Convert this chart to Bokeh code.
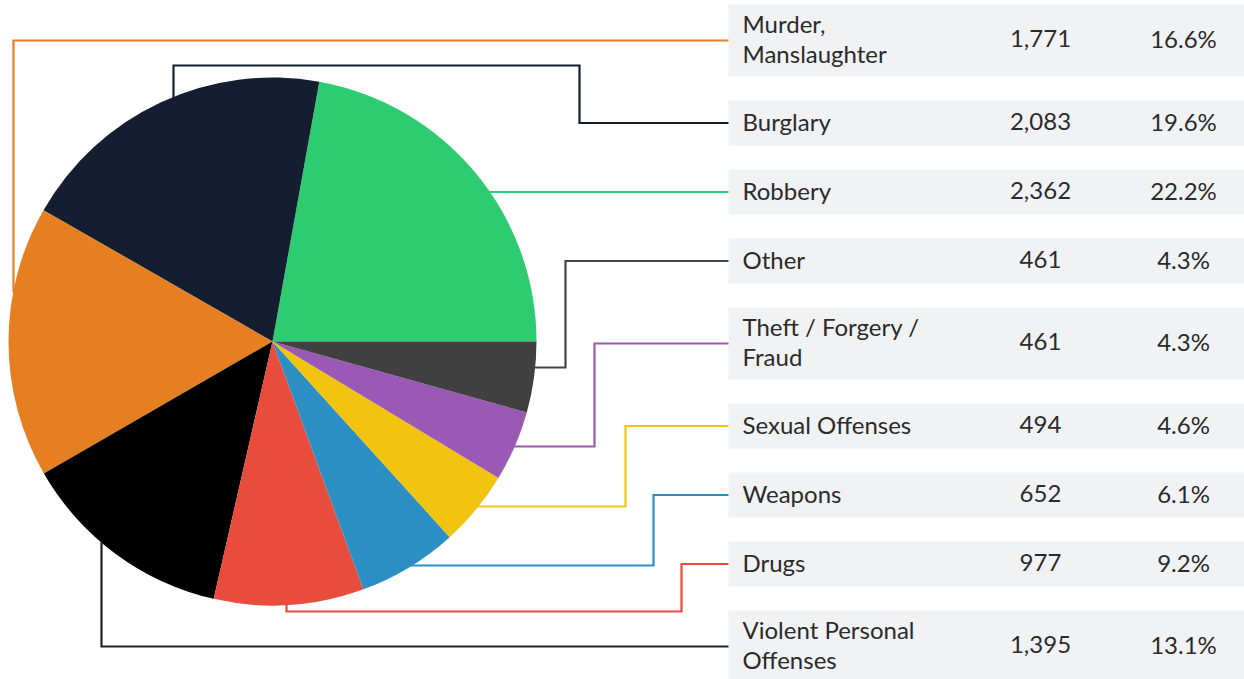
import math
from bokeh.plotting import figure
from bokeh.models import Range1d
from bokeh.core.properties import value
from bokeh.embed import file_html
from bokeh.resources import INLINE

# ---------------- data ----------------
# pie order (counter-clockwise from 3 o'clock)
pie_categories = ["Robbery", "Burglary", "Murder, Manslaughter", "Violent Personal Offenses",
                  "Drugs", "Weapons", "Sexual Offenses", "Theft / Forgery / Fraud", "Other"]
pie_counts = [2362, 2083, 1771, 1395, 977, 652, 494, 461, 461]
pie_colors = ["#2ecc71", "#141e30", "#e67e22", "#000000", "#e74c3c",
              "#2b8fc3", "#f1c40f", "#9b59b6", "#404040"]

# table order (top to bottom)
table_categories = ["Murder, Manslaughter", "Burglary", "Robbery", "Other", "Theft / Forgery / Fraud",
                    "Sexual Offenses", "Weapons", "Drugs", "Violent Personal Offenses"]
table_labels = ["Murder,\nManslaughter", "Burglary", "Robbery", "Other", "Theft / Forgery /\nFraud",
                "Sexual Offenses", "Weapons", "Drugs", "Violent Personal\nOffenses"]
table_counts = ["1,771", "2,083", "2,362", "461", "461", "494", "652", "977", "1,395"]
table_pcts = ["16.6%", "19.6%", "22.2%", "4.3%", "4.3%", "4.6%", "6.1%", "9.2%", "13.1%"]

# ---------------- layout ----------------
W, H = 1244, 679
PAGE_H = 679
def sy(y):  # screen y -> data y
    return PAGE_H - y

CX, CY_S, R = 272, 341, 264
CY = sy(CY_S)

p = figure(width=W, height=H, x_range=Range1d(0, W), y_range=Range1d(PAGE_H - H, PAGE_H),
           output_backend="svg", toolbar_location=None, min_border=0)
p.axis.visible = False
p.grid.visible = False
p.outline_line_color = None
p.background_fill_color = "white"

# pie wedges
total = sum(pie_counts)
starts, ends = [], []
acc = 0.0
for c in pie_counts:
    starts.append(2 * math.pi * acc / total)
    acc += c
    ends.append(2 * math.pi * acc / total)
p.wedge(x=CX, y=CY, radius=R, start_angle=starts, end_angle=ends,
        fill_color=pie_colors, line_color=None)

# table rows
row_left, row_right = 728, 1250
tops, centers, heights = [], [], []
t = 4
for lab in table_labels:
    h = 72 if "\n" in lab else 45
    tops.append(t)
    heights.append(h)
    centers.append(t + h / 2)
    t += h + 24
p.quad(left=row_left, right=row_right,
       top=[sy(a) for a in tops], bottom=[sy(a + h) for a, h in zip(tops, heights)],
       fill_color="#f1f2f4", line_color=None)

font = value("Lato")
txt_color = "#2b2b2b"
fs = "24px"
cy_data = [sy(c - 2) for c in centers]
p.text(x=742, y=cy_data, text=table_labels, text_font=font, text_font_size=fs,
       text_color=txt_color, text_align="left", text_baseline="middle", text_line_height=1.03)
p.text(x=1040, y=cy_data, text=table_counts, text_font=font, text_font_size=fs,
       text_color=txt_color, text_align="center", text_baseline="middle")
p.text(x=1183, y=cy_data, text=table_pcts, text_font=font, text_font_size=fs,
       text_color=txt_color, text_align="center", text_baseline="middle")

# leader lines: route from table row to pie (screen coords), last segment runs to circle
color_of = dict(zip(pie_categories, pie_colors))
line_colors = dict(color_of)
line_colors["Violent Personal Offenses"] = "#222222"
line_colors["Other"] = "#444444"
routes = {
    "Murder, Manslaughter": ([("x", 13)], "v"),
    "Burglary": ([("x", 579), ("y", 65), ("x", 173)], "v"),
    "Robbery": ([], "h"),
    "Other": ([("x", 565), ("y", 367)], "h"),
    "Theft / Forgery / Fraud": ([("x", 594), ("y", 446)], "h"),
    "Sexual Offenses": ([("x", 625), ("y", 506)], "h"),
    "Weapons": ([("x", 653), ("y", 565)], "h"),
    "Drugs": ([("x", 681), ("y", 611), ("x", 286)], "v"),
    "Violent Personal Offenses": ([("x", 101)], "v"),
}
xs_all, ys_all, cols = [], [], []
for cat, cyc in zip(table_categories, centers):
    steps, final = routes[cat]
    px, py = row_left, cyc
    pts = [(px, py)]
    for kind, v in steps:
        if kind == "x":
            px = v
        else:
            py = v
        pts.append((px, py))
    if final == "h":
        d = math.sqrt(max(R * R - (py - CY_S) ** 2, 0))
        ax = CX + d if px > CX else CX - d
        ax += -2 if px > CX else 2
        pts.append((ax, py))
    else:
        d = math.sqrt(max(R * R - (px - CX) ** 2, 0))
        ay = CY_S - d if py < CY_S else CY_S + d
        ay += 2 if py < CY_S else -2
        pts.append((px, ay))
    xs_all.append([a for a, b in pts])
    ys_all.append([sy(b) for a, b in pts])
    cols.append(line_colors[cat])
p.multi_line(xs=xs_all, ys=ys_all, line_color=cols, line_width=2.2, line_join="miter")

open("out.html", "w").write(file_html(p, INLINE))
